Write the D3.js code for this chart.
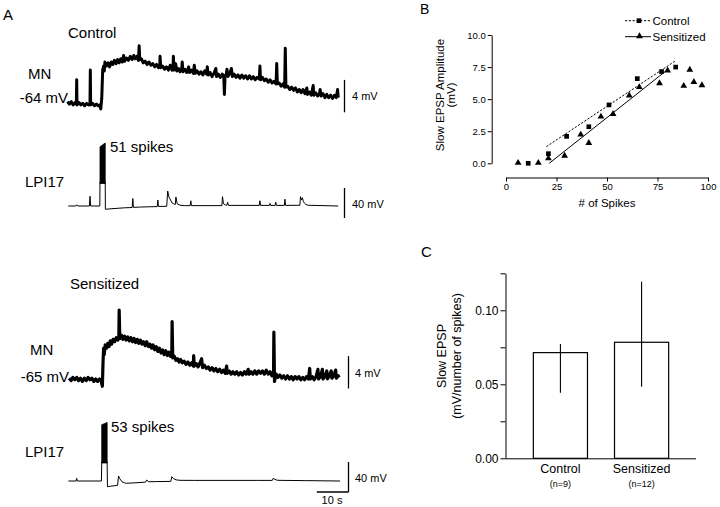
<!DOCTYPE html>
<html><head><meta charset="utf-8">
<script src="https://cdn.jsdelivr.net/npm/d3@7"></script>
<style>
body{margin:0;background:#fff}
svg{display:block}
text{font-family:"Liberation Sans",Arial,Helvetica,sans-serif;fill:#000}
</style></head>
<body><svg id="c" width="720" height="507"></svg>
<script>
// ---------------- DATA ----------------
// Panel A: traces as [time (s), deflection from rest (mV)]
const ctrlMN = [[0,0.1],[0.6,-0.2],[1.2,0.1],[1.8,-0.3],[2.4,0.0],[2.8,-0.2],[2.9,2.8],[3.0,-0.3],[3.6,0.0],[4.2,-0.3],[4.8,-0.1],[5.4,-0.4],[6.0,-0.1],[6.6,-0.3],[7.1,-0.2],[7.2,4.0],[7.3,-0.3],[7.9,-0.1],[8.5,-0.4],[9.1,-0.2],[9.7,-0.4],[10.2,-0.3],[10.5,-0.8],[10.8,0.5],[11.1,4.0],[11.4,4.5],[11.6,3.9],[11.8,5.0],[12.3,4.5],[12.8,4.9],[13.3,4.4],[13.8,5.0],[14.3,4.7],[14.8,5.2],[15.3,4.8],[15.8,5.3],[16.3,4.9],[16.8,5.4],[17.3,5.0],[17.7,5.8],[18.0,5.1],[18.6,5.5],[19.2,5.2],[19.8,5.7],[20.4,5.3],[20.9,5.8],[21.4,5.4],[21.9,5.7],[22.4,5.2],[22.6,7.0],[22.8,5.3],[23.3,5.4],[23.9,4.9],[24.5,5.1],[25.1,4.7],[25.7,5.0],[26.3,4.6],[26.9,4.8],[27.5,4.4],[28.1,4.7],[28.7,4.3],[29.1,4.5],[29.2,5.7],[29.4,4.3],[30.0,4.5],[30.6,4.1],[31.2,4.4],[31.8,4.0],[32.4,4.6],[33.0,4.0],[33.3,4.3],[33.4,5.7],[33.6,4.0],[34.1,4.8],[34.5,3.9],[35.0,4.2],[35.5,3.8],[36.0,4.1],[36.2,5.0],[36.4,3.8],[37.0,4.1],[37.6,3.7],[38.2,4.4],[38.5,3.7],[39.1,4.0],[39.7,3.6],[40.0,4.6],[40.3,3.6],[40.9,3.9],[41.5,3.5],[42.1,3.8],[42.7,3.4],[43.3,3.9],[43.9,3.5],[44.1,4.4],[44.4,3.4],[45.0,3.7],[45.6,3.2],[46.2,3.6],[46.8,4.2],[47.0,3.2],[47.6,3.5],[48.2,3.1],[48.8,3.5],[49.3,3.2],[49.5,1.0],[49.7,3.3],[50.1,3.5],[50.3,4.1],[50.6,3.2],[51.2,3.6],[51.7,4.2],[52.0,3.2],[52.6,3.5],[53.2,3.1],[53.8,3.4],[54.4,3.0],[55.0,3.4],[55.6,3.0],[56.2,3.3],[56.8,2.9],[57.4,3.3],[58.0,2.9],[58.6,3.2],[59.2,2.8],[59.8,3.1],[60.5,2.9],[60.7,4.5],[60.9,2.8],[61.5,3.1],[62.1,2.7],[62.7,2.9],[63.3,2.5],[63.9,2.8],[64.5,2.4],[65.1,2.6],[65.8,2.3],[66.0,4.8],[66.2,2.3],[66.8,2.4],[67.4,2.0],[68.0,2.3],[68.5,1.9],[68.7,6.7],[68.9,1.9],[69.5,2.0],[70.1,1.6],[70.7,1.9],[71.3,1.5],[71.9,1.8],[72.5,1.3],[73.1,1.6],[73.7,1.2],[74.3,1.6],[74.9,1.1],[75.5,1.8],[75.7,1.0],[76.3,1.3],[76.9,0.9],[77.5,2.1],[77.7,0.9],[78.3,1.2],[78.9,0.8],[79.5,1.1],[79.7,1.6],[80.0,0.8],[80.6,1.1],[81.2,0.6],[81.8,1.0],[82.4,0.6],[83.0,0.9],[83.6,0.5],[84.2,0.9],[84.8,0.6],[85.2,1.6],[85.4,0.6]];

const sensMN = [[0.5,0.1],[1.1,-0.2],[1.7,0.2],[2.3,-0.1],[2.9,0.2],[3.5,-0.2],[4.1,0.1],[4.7,-0.3],[5.3,0.1],[5.9,-0.2],[6.5,0.2],[7.1,-0.1],[7.7,0.1],[8.3,-0.3],[8.9,0.0],[9.5,-0.3],[10.1,0.0],[10.6,-0.2],[11.0,-0.9],[11.2,2.0],[11.4,3.8],[11.6,3.0],[11.9,4.2],[12.3,3.8],[12.7,4.4],[13.1,4.0],[13.5,4.7],[13.9,4.3],[14.4,4.9],[14.9,4.6],[15.4,5.1],[15.9,4.8],[16.2,5.3],[16.3,8.5],[16.5,5.0],[17.0,5.4],[17.5,4.9],[18.0,5.3],[18.5,4.8],[19.0,5.2],[19.5,4.7],[20.0,5.1],[20.5,4.6],[21.0,5.0],[21.5,4.5],[22.0,4.9],[22.5,4.4],[23.0,4.8],[23.5,4.3],[24.0,4.6],[24.5,4.1],[25.0,4.6],[25.5,4.0],[26.0,4.3],[26.5,3.8],[27.0,4.2],[27.5,3.6],[28.0,4.0],[28.5,3.4],[29.0,3.8],[29.5,3.2],[30.0,3.6],[30.5,3.0],[31.0,3.5],[31.5,2.9],[32.0,3.3],[32.5,2.8],[32.9,3.0],[33.0,7.1],[33.2,2.6],[33.7,2.8],[34.2,2.3],[34.7,2.5],[35.2,2.1],[35.7,2.4],[36.2,2.0],[36.8,2.2],[37.4,1.8],[38.0,2.1],[38.6,1.7],[39.2,2.0],[39.7,1.6],[39.8,2.9],[40.0,1.6],[40.6,1.9],[41.2,1.5],[41.8,2.0],[42.3,2.5],[42.6,1.4],[43.2,1.7],[43.8,1.3],[44.4,1.5],[45.0,1.1],[45.6,1.4],[46.2,1.0],[46.8,1.3],[47.4,0.9],[48.0,1.2],[48.6,0.8],[49.2,1.1],[49.8,0.7],[50.2,1.6],[50.4,0.7],[51.0,1.0],[51.6,0.6],[52.2,0.9],[52.8,0.6],[53.4,0.9],[54.0,0.5],[54.6,0.8],[55.2,0.5],[55.8,0.9],[56.4,0.6],[57.0,1.2],[57.3,0.6],[57.9,0.9],[58.5,0.6],[59.1,1.0],[59.7,0.6],[60.3,1.0],[60.9,0.7],[61.5,1.0],[62.1,0.6],[62.7,1.1],[63.3,0.6],[63.9,0.9],[64.5,0.4],[65.0,0.5],[65.1,5.8],[65.3,-0.3],[65.8,0.6],[66.4,0.2],[67.0,0.5],[67.6,0.1],[68.2,0.4],[68.8,0.0],[69.4,0.4],[70.0,0.0],[70.6,0.3],[71.2,-0.1],[71.8,0.3],[72.4,0.0],[73.0,0.3],[73.6,-0.1],[74.2,0.2],[74.8,-0.1],[75.4,0.3],[76.0,0.0],[76.4,1.3],[76.6,0.0],[77.2,0.3],[77.8,-0.1],[78.4,0.3],[79.0,1.2],[79.2,0.0],[79.8,0.3],[80.4,1.2],[80.6,0.0],[81.2,0.3],[81.8,1.0],[82.0,0.0],[82.6,0.4],[83.2,1.0],[83.4,0.1],[84.0,0.4],[84.6,1.1],[84.8,0.1],[85.4,0.4],[85.7,0.2]];

const ctrlLPI = [[0.25,0],[2.6,0],[2.9,1.5],[3.3,0],[6.9,0],[7.1,13],[7.3,0],[10.2,0],[10.25,32],[11.9,32],[11.95,-4.4],[12.5,-4.2],[14,-3.6],[16,-3],[18,-2.4],[20.4,-2],[20.6,10],[20.8,-1.8],[23,-1.4],[26,-1],[28.3,-0.8],[28.5,8],[28.7,-0.6],[31.3,-0.4],[31.6,20],[32,12],[32.5,8],[33,4],[33.5,3],[34,2],[34.2,12],[34.6,3],[35.5,1],[37,0.5],[38.7,0.5],[38.9,7],[39.1,0.5],[48.7,0.5],[48.9,12.4],[49.2,3],[49.8,1.5],[50.3,1],[50.5,5],[50.8,0.8],[60.5,0.8],[60.7,7],[60.9,0.8],[63.7,0.8],[63.9,3.5],[64.1,0.8],[65.5,0.8],[65.7,5],[65.9,0.8],[68.4,0.8],[68.6,9],[68.8,0.8],[73.3,1],[73.5,12.4],[73.8,8],[74.1,11],[74.4,6],[74.7,4],[75.2,2],[76,1],[85.4,0]];
const ctrlBurst = [[10.25,30],[10.25,79],[11.9,84],[11.9,30]];

const sensLPI = [[0.3,0],[2.7,0],[2.9,3.6],[3.1,0],[10.7,0],[10.8,25.7],[12.5,25.7],[12.6,-7.6],[13.5,-7],[15,-6.2],[15.8,-5.8],[16.1,6.7],[16.5,3],[17.2,-1],[18,-2.5],[18.7,-3],[21,-2.5],[24.6,-1.5],[25,1.3],[25.6,-1],[28,-0.8],[32.6,-0.5],[32.9,5.7],[33.5,3],[34.3,1.5],[35.5,0.9],[40,0.8],[50,0.8],[60,0.8],[64.6,0.8],[64.9,3.6],[65.5,2],[66.3,0.9],[75,0.5],[86,0]];
const sensBurst = [[10.8,24],[10.8,75],[12.5,78],[12.5,24]];

// Panel B
const ctrlSpikes = [11,21,30,41,51,65,77,84];
const ctrlAmp    = [0,0.75,2.1,2.85,4.55,6.6,7.15,7.5];
const sensSpikes = [6,16,21,29,37,41,47,53,61,66,76,80,88,91,93,97];
const sensAmp    = [0,0,0.35,0.55,2.2,1.55,3.6,3.8,5.25,5.9,6.2,7.2,6.0,7.25,6.3,6.05];
const ctrlFit = [[20,1.3],[84,8.0]];
const sensFit = [[21.4,0],[78.7,7.14]];
const bXTicks = [0,25,50,75,100];
const bYTicks = [0,2.5,5,7.5,10];

// Panel C
const cGroups = ["Control","Sensitized"];
const cN = ["(n=9)","(n=12)"];
const cMean = [0.0714,0.0784];
const cLow  = [0.0443,0.0484];
const cHigh = [0.0772,0.1193];
const cTicks = [0,0.025,0.05,0.075,0.10,0.125];
const cTickLabels = [0,0.05,0.10];

// ---------------- DRAW ----------------
const svg = d3.select("#c");
const ink = "#000";

// ---- Panel A
svg.append("text").attr("x",3).attr("y",20).attr("font-size",15).text("A");

const xT = d3.scaleLinear().domain([0,86]).range([67.5, 67.5 + 86*3.17]);
const mvPx = 8.1, lpiPx = 0.75;
const yC_MN = d3.scaleLinear().domain([0,1]).range([102.5, 102.5 - mvPx]);
const yS_MN = d3.scaleLinear().domain([0,1]).range([379, 379 - mvPx]);
const yC_LPI = d3.scaleLinear().domain([0,1]).range([206, 206 - lpiPx]);
const yS_LPI = d3.scaleLinear().domain([0,1]).range([481, 481 - lpiPx]);

function trace(data, y, w){
  svg.append("path").datum(data)
    .attr("d", d3.line().x(d=>xT(d[0])).y(d=>y(d[1])))
    .attr("fill","none").attr("stroke",ink).attr("stroke-width",w)
    .attr("stroke-linejoin","round");
}
function burst(data, y){
  const ln = d3.line().x(d=>xT(d[0])).y(d=>y(d[1]));
  svg.append("path").datum(data)
    .attr("d", d=>ln(d)+"Z")
    .attr("fill",ink).attr("stroke",ink).attr("stroke-width",0.8);
}
trace(ctrlMN, yC_MN, 3);
trace(sensMN, yS_MN, 3.2);
trace(ctrlLPI, yC_LPI, 1);
trace(sensLPI, yS_LPI, 1);
burst(ctrlBurst, yC_LPI);
burst(sensBurst, yS_LPI);

const fsA = 15;
function lab(x,y,t,anchor,fs){
  svg.append("text").attr("x",x).attr("y",y).attr("font-size",fs||fsA)
    .attr("text-anchor",anchor||"start").text(t);
}
lab(68,38,"Control");
lab(28,79,"MN");
lab(68,103,"-64 mV","end");
lab(110,152,"51 spikes");
lab(25,187,"LPI17");
lab(70,289,"Sensitized");
lab(30,355,"MN");
lab(69,382,"-65 mV","end");
lab(111,432,"53 spikes");
lab(25,457,"LPI17");

// scale bars
function vbar(x, yBottom, len){
  svg.append("line").attr("x1",x).attr("x2",x).attr("y1",yBottom).attr("y2",yBottom-len)
    .attr("stroke",ink).attr("stroke-width",1.3);
}
const mv4 = yC_MN(0)-yC_MN(4), mv40 = yC_LPI(0)-yC_LPI(40), s10 = xT(10)-xT(0);
vbar(344.5, 112.3, mv4);  lab(352,100,"4 mV","start",11);
vbar(344.5, 218, mv40);   lab(352,208,"40 mV","start",11);
vbar(348.5, 388.5, mv4);  lab(355,377,"4 mV","start",11);
vbar(348.5, 492, mv40);   lab(355,482,"40 mV","start",11);
svg.append("line").attr("x1",348.5).attr("x2",348.5-s10).attr("y1",492).attr("y2",492)
  .attr("stroke",ink).attr("stroke-width",1.3);
lab(332,504,"10 s","middle",11);

// ---- Panel B
svg.append("text").attr("x",420).attr("y",14).attr("font-size",14).text("B");
const xB = d3.scaleLinear().domain([0,100]).range([506,708]);
const yB = d3.scaleLinear().domain([0,10]).range([163.3,35]);
const gBx = svg.append("g").attr("transform","translate(0,177.5)")
  .call(d3.axisBottom(xB).tickValues(bXTicks).tickSize(4).tickSizeOuter(0).tickPadding(2).tickFormat(d3.format("d")));
const gBy = svg.append("g").attr("transform","translate(491.7,0)")
  .call(d3.axisLeft(yB).tickValues(bYTicks).tickSize(4).tickSizeOuter(0).tickPadding(2).tickFormat(d3.format(".1f")));
[gBx,gBy].forEach(g=>{
  g.selectAll("text").attr("font-size",9.5).attr("font-family",null).attr("fill",ink);
  g.select(".domain").attr("stroke",ink).attr("stroke-width",1);
  g.selectAll(".tick line").attr("stroke",ink);
  g.attr("font-family",null);
});
svg.append("text").attr("x",607).attr("y",207).attr("font-size",11.5).attr("text-anchor","middle").text("# of Spikes");
svg.append("text").attr("transform","translate(443.5,95) rotate(-90)").attr("font-size",11.5)
  .attr("text-anchor","middle").text("Slow EPSP Amplitude");
svg.append("text").attr("transform","translate(455,95) rotate(-90)").attr("font-size",11.5)
  .attr("text-anchor","middle").text("(mV)");

const fitLine = d3.line().x(d=>xB(d[0])).y(d=>yB(d[1]));
svg.append("path").datum(ctrlFit).attr("d",fitLine).attr("stroke",ink).attr("stroke-width",1)
  .attr("stroke-dasharray","2.2,1.6").attr("fill","none");
svg.append("path").datum(sensFit).attr("d",fitLine).attr("stroke",ink).attr("stroke-width",1).attr("fill","none");

const sq = d3.symbol().type(d3.symbolSquare).size(22);
const tri = d3.symbol().type(d3.symbolTriangle).size(20);
svg.append("g").selectAll("path").data(ctrlSpikes).join("path")
  .attr("transform",(d,i)=>`translate(${xB(d)},${yB(ctrlAmp[i])})`).attr("d",sq).attr("fill",ink);
svg.append("g").selectAll("path").data(sensSpikes).join("path")
  .attr("transform",(d,i)=>`translate(${xB(d)},${yB(sensAmp[i])-0.5})`).attr("d",tri).attr("fill",ink);

// legend
svg.append("line").attr("x1",625).attr("x2",651).attr("y1",20.7).attr("y2",20.7)
  .attr("stroke",ink).attr("stroke-dasharray","2.2,1.6");
svg.append("path").attr("transform","translate(639,20.7)").attr("d",sq).attr("fill",ink);
svg.append("text").attr("x",652.5).attr("y",24.8).attr("font-size",11.5).text("Control");
svg.append("line").attr("x1",625).attr("x2",651).attr("y1",36.7).attr("y2",36.7).attr("stroke",ink);
svg.append("path").attr("transform","translate(639.5,36.2)").attr("d",tri).attr("fill",ink);
svg.append("text").attr("x",652.5).attr("y",40.8).attr("font-size",11.5).text("Sensitized");

// ---- Panel C
svg.append("text").attr("x",421).attr("y",257).attr("font-size",15).text("C");
const xC = d3.scaleBand().domain(cGroups).range([506,696]).paddingInner(0.333).paddingOuter(0.337);
const yC = d3.scaleLinear().domain([0,0.125]).range([458.3,273.3]);
const gCy = svg.append("g").attr("transform","translate(505.5,0)")
  .call(d3.axisLeft(yC).tickValues(cTicks).tickSize(5).tickSizeOuter(0).tickPadding(2)
    .tickFormat(d=>cTickLabels.some(v=>Math.abs(v-d)<1e-9)?d3.format(".2f")(d):""));
gCy.attr("font-family",null);
gCy.selectAll("text").attr("font-size",12).attr("font-family",null).attr("fill",ink);
gCy.select(".domain").attr("stroke",ink);
gCy.selectAll(".tick line").attr("stroke",ink);
const gCx = svg.append("g").attr("transform","translate(0,458.3)")
  .call(d3.axisBottom(xC).tickSize(0).tickSizeOuter(0).tickFormat(""));
gCx.select(".domain").attr("stroke",ink).attr("d","M505.5,0.5H696");

svg.append("g").selectAll("rect").data(cGroups).join("rect")
  .attr("x",d=>xC(d)).attr("width",xC.bandwidth())
  .attr("y",(d,i)=>yC(cMean[i])).attr("height",(d,i)=>yC(0)-yC(cMean[i]))
  .attr("fill","#fff").attr("stroke",ink).attr("stroke-width",1.2);
svg.append("g").selectAll("line").data(cGroups).join("line")
  .attr("x1",d=>xC(d)+xC.bandwidth()/2).attr("x2",d=>xC(d)+xC.bandwidth()/2)
  .attr("y1",(d,i)=>yC(cLow[i])).attr("y2",(d,i)=>yC(cHigh[i]))
  .attr("stroke",ink).attr("stroke-width",1.1);
svg.append("g").selectAll("text").data(cGroups).join("text")
  .attr("x",d=>xC(d)+xC.bandwidth()/2).attr("y",473).attr("text-anchor","middle")
  .attr("font-size",12.5).text(d=>d);
svg.append("g").selectAll("text").data(cN).join("text")
  .attr("x",(d,i)=>xC(cGroups[i])+xC.bandwidth()/2).attr("y",487).attr("text-anchor","middle")
  .attr("font-size",9).text(d=>d);
svg.append("text").attr("transform","translate(446,356) rotate(-90)").attr("font-size",12.5)
  .attr("text-anchor","middle").text("Slow EPSP");
svg.append("text").attr("transform","translate(460.5,356) rotate(-90)").attr("font-size",12.5)
  .attr("text-anchor","middle").text("(mV/number of spikes)");
</script>
</body></html>
